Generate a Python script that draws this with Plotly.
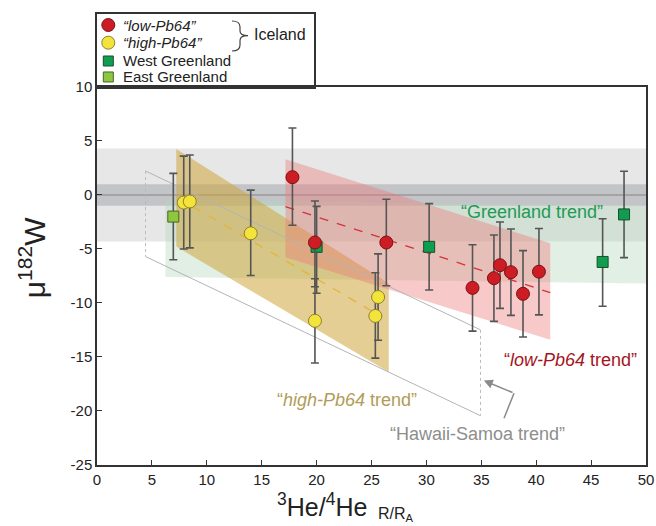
import plotly.graph_objects as go

# ---------------- data ----------------
low_x = [17.8, 19.85, 26.35, 34.2, 36.15, 36.7, 37.7, 38.8, 40.25]
low_y = [1.65, -4.4, -4.4, -8.6, -7.7, -6.5, -7.15, -9.15, -7.1]
low_ep = [4.55, 3.85, 4.0, 4.0, 4.0, 4.0, 4.0, 4.0, 4.0]
low_em = [4.45, 4.1, 4.0, 4.0, 4.0, 4.0, 4.0, 4.0, 4.0]

high_x = [7.9, 8.45, 14.0, 19.85, 25.6, 25.35]
high_y = [-0.7, -0.6, -3.55, -11.65, -9.45, -11.2]
high_ep = [4.3, 4.3, 4.0, 3.9, 4.0, 4.0]
high_em = [4.3, 4.3, 3.9, 3.9, 4.0, 3.9]

west_x = [20.0, 30.25, 46.05, 48.0]
west_y = [-4.8, -4.8, -6.2, -1.8]
west_ep = [3.75, 4.0, 4.0, 4.0]
west_em = [4.3, 4.0, 4.1, 4.0]

east_x = [6.95]
east_y = [-2.0]
east_e = [4.0]

# trend envelopes
high_band_x = [7.22, 26.57, 26.57, 7.22]
high_band_y = [4.26, -8.17, -16.4, -4.78]
high_line_x = [8.73, 25.36]
high_line_y = [-1.08, -10.94]

low_band_x = [17.16, 41.28, 41.28, 17.16]
low_band_y = [3.3, -4.47, -13.41, -5.76]
low_line_x = [17.16, 41.28]
low_line_y = [-1.08, -9.04]

green_band_x = [6.24, 50, 50, 6.24]
green_band_y = [-0.4, -1.0, -8.2, -7.6]

hs_x = [4.42, 34.93, 34.93, 4.42]
hs_y = [2.22, -12.49, -20.44, -5.7]

mantle_outer = [-4.3, 4.3]
mantle_inner = [-1.0, 1.0]

x_ticks = [0, 5, 10, 15, 20, 25, 30, 35, 40, 45, 50]
y_ticks = [10, 5, 0, -5, -10, -15, -20, -25]
y_ticktext = ["10", "5", "0", "-5", "-10", "-15", "-20", "-25"]

FONT = "Liberation Sans, Arial, sans-serif"
RED, RED_L = "#CC1C24", "#7A1216"
YEL, YEL_L = "#F2E43A", "#8E8030"
GRN, GRN_L = "#0F9E4E", "#1B4D2C"
EGR, EGR_L = "#8DC63F", "#4A6424"
ERRC = "#555555"

fig = go.Figure()

def poly(xs, ys, fill):
    fig.add_trace(go.Scatter(
        x=xs + [xs[0]], y=ys + [ys[0]], mode="lines", fill="toself",
        fillcolor=fill, line=dict(width=0, color="rgba(0,0,0,0)"),
        hoverinfo="skip", showlegend=False))

# mantle bands
poly([0, 50, 50, 0], [mantle_outer[1], mantle_outer[1], mantle_outer[0], mantle_outer[0]], "rgba(160,160,160,0.25)")
poly([0, 50, 50, 0], [mantle_inner[1], mantle_inner[1], mantle_inner[0], mantle_inner[0]], "rgba(110,115,125,0.30)")
fig.add_trace(go.Scatter(x=[0, 50], y=[0, 0], mode="lines", line=dict(color="#9A9A9A", width=1.5),
                         hoverinfo="skip", showlegend=False))
# greenland band
poly(green_band_x, green_band_y, "rgba(180,215,190,0.40)")
# high / low bands
poly(high_band_x, high_band_y, "rgba(205,165,60,0.55)")
poly(low_band_x, low_band_y, "rgba(238,120,120,0.40)")

# Hawaii-Samoa outline
fig.add_trace(go.Scatter(x=[hs_x[0], hs_x[1], None, hs_x[3], hs_x[2]],
                         y=[hs_y[0], hs_y[1], None, hs_y[3], hs_y[2]],
                         mode="lines", line=dict(color="#B4B4B4", width=1),
                         hoverinfo="skip", showlegend=False))
fig.add_trace(go.Scatter(x=[hs_x[0], hs_x[3], None, hs_x[1], hs_x[2]],
                         y=[hs_y[0], hs_y[3], None, hs_y[1], hs_y[2]],
                         mode="lines", line=dict(color="#BBBBBB", width=1, dash="dot"),
                         hoverinfo="skip", showlegend=False))

# dashed trend lines
fig.add_trace(go.Scatter(x=high_line_x, y=high_line_y, mode="lines",
                         line=dict(color="#E2B43C", width=1.3, dash="dash"), hoverinfo="skip", showlegend=False))
fig.add_trace(go.Scatter(x=low_line_x, y=low_line_y, mode="lines",
                         line=dict(color="#D8303A", width=1.3, dash="dash"), hoverinfo="skip", showlegend=False))

def pts(xs, ys, ep, em, sym, size, fill, edge):
    fig.add_trace(go.Scatter(
        x=xs, y=ys, mode="markers",
        marker=dict(symbol=sym, size=size, color=fill, line=dict(color=edge, width=1)),
        error_y=dict(type="data", array=ep, arrayminus=em, color=ERRC, thickness=1.6, width=4),
        showlegend=False))

pts(west_x, west_y, west_ep, west_em, "square", 11, GRN, GRN_L)
pts(east_x, east_y, east_e, east_e, "square", 11, EGR, EGR_L)
pts(high_x, high_y, high_ep, high_em, "circle", 13, YEL, YEL_L)
pts(low_x, low_y, low_ep, low_em, "circle", 13, RED, RED_L)

# ---------------- legend (own axis) ----------------
leg_sym = ["circle", "circle", "square", "square"]
leg_fill = [RED, YEL, GRN, EGR]
leg_edge = [RED_L, YEL_L, GRN_L, EGR_L]
leg_size = [13, 13, 10, 10]
leg_row = [62, 44.3, 26, 10]
leg_text = ["<i>“low-Pb64”</i>", "<i>“high-Pb64”</i>", "West Greenland", "East Greenland"]
for s, f, e, z, r in zip(leg_sym, leg_fill, leg_edge, leg_size, leg_row):
    fig.add_trace(go.Scatter(x=[11.3], y=[r], xaxis="x2", yaxis="y2", mode="markers",
                             marker=dict(symbol=s, size=z, color=f, line=dict(color=e, width=1)),
                             showlegend=False, hoverinfo="skip"))
for t, r in zip(leg_text, leg_row):
    fig.add_annotation(x=23.5, y=r, xref="x2", yref="y2", text=t, showarrow=False,
                       xanchor="left", yanchor="middle", font=dict(size=15, color="#222", family=FONT))
fig.add_shape(type="path", xref="x2", yref="y2",
              path="M 135,66 Q 143,66 143,60 L 143,56 Q 143,51.3 151,51.3 Q 143,51.3 143,46.6 L 143,42 Q 143,36 135,36",
              line=dict(color="#444", width=1.2))
fig.add_annotation(x=155, y=52, xref="x2", yref="y2", text="Iceland", showarrow=False,
                   xanchor="left", yanchor="middle", font=dict(size=16, color="#222", family=FONT))

# ---------------- text labels ----------------
fig.add_annotation(x=39.6, y=-1.55, text="“Greenland trend”", showarrow=False,
                   font=dict(size=18, color="#1E9B55", family=FONT))
fig.add_annotation(x=43.1, y=-15.25, text="“<i>low-Pb64</i> trend”", showarrow=False,
                   font=dict(size=18, color="#A3161E", family=FONT))
fig.add_annotation(x=22.8, y=-18.95, text="“<i>high-Pb64</i> trend”", showarrow=False,
                   font=dict(size=18, color="#B29C58", family=FONT))
fig.add_annotation(x=34.65, y=-22.1, text="“Hawaii-Samoa trend”", showarrow=False,
                   font=dict(size=18, color="#8E8E8E", family=FONT))
# arrow
fig.add_shape(type="line", x0=37.07, y0=-20.67, x1=37.98, y1=-18.35, line=dict(color="#8A8A8A", width=1.5))
fig.add_annotation(x=35.23, y=-17.18, ax=37.98, ay=-18.35, axref="x", ayref="y", text="",
                   showarrow=True, arrowhead=2, arrowsize=1.2, arrowwidth=1.5, arrowcolor="#8A8A8A")

# axis titles
fig.add_annotation(xref="paper", yref="paper", x=0.41, y=-0.088, xanchor="center", yanchor="middle",
                   text="<sup>3</sup>He/<sup>4</sup>He", showarrow=False,
                   font=dict(size=25, color="#222", family=FONT))
fig.add_annotation(xref="paper", yref="paper", x=0.508, y=-0.108, xanchor="left", yanchor="middle",
                   text="R/R<sub>A</sub>", showarrow=False,
                   font=dict(size=16, color="#222", family=FONT))
fig.add_annotation(xref="paper", yref="paper", x=-0.118, y=0.455, xanchor="center", yanchor="middle",
                   text="μ<sup>182</sup>W", textangle=-90, showarrow=False,
                   font=dict(size=30, color="#222", family=FONT))

axis_common = dict(showline=True, linecolor="#333", linewidth=1.5, mirror=True, showgrid=False,
                   zeroline=False, ticks="inside", ticklen=5, tickwidth=1.3, tickcolor="#333",
                   automargin=False, tickfont=dict(size=15, color="#222", family=FONT))

fig.update_layout(
    width=656, height=526,
    margin=dict(l=97, r=10, t=10, b=61, autoexpand=False),
    paper_bgcolor="white", plot_bgcolor="white",
    font=dict(family=FONT),
    xaxis=dict(range=[0, 50], tickvals=x_ticks, domain=[0, 1], anchor="y", **axis_common),
    yaxis=dict(range=[-25, 10], tickvals=y_ticks, ticktext=y_ticktext, domain=[0, 0.8308], anchor="x",
               **axis_common),
    xaxis2=dict(range=[0, 217], domain=[0, 0.3953], anchor="y2", showline=True, linecolor="#333",
                linewidth=1.5, mirror=True, showgrid=False, zeroline=False, showticklabels=False, ticks="",
                automargin=False),
    yaxis2=dict(range=[0, 73], domain=[0.8308, 0.9912], anchor="x2", showline=True, linecolor="#333",
                linewidth=1.5, mirror=True, showgrid=False, zeroline=False, showticklabels=False, ticks="",
                automargin=False),
)

fig.write_html("out.html")
